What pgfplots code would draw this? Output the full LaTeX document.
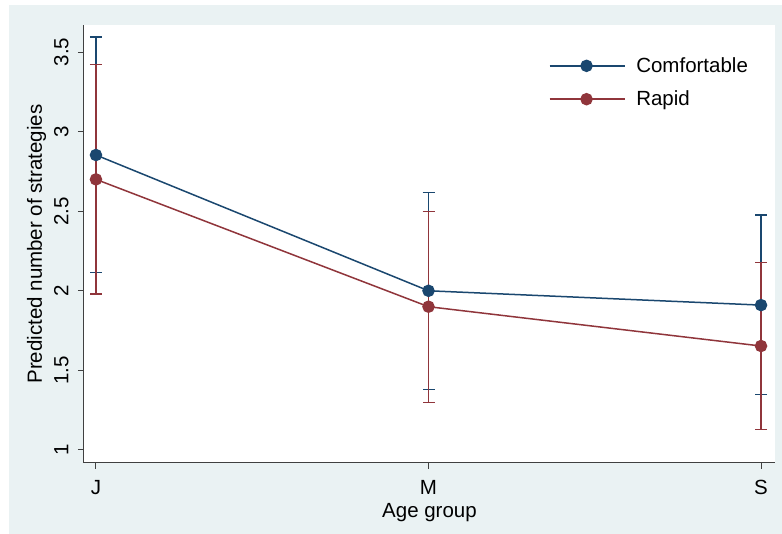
\documentclass[border=0pt]{standalone}
\usepackage{fontspec}
\setmainfont{Liberation Sans}
\usepackage{pgfplots}
\usepackage{pgfplotstable}
\pgfplotsset{compat=1.18}
\definecolor{stnavy}{HTML}{1A476F}
\definecolor{stmaroon}{HTML}{90353B}
\definecolor{stbg}{HTML}{EAF2F3}
\pgfplotstableread{
x y lo hi
0 2.853 2.113 3.594
1 2.000 1.380 2.620
2 1.910 1.346 2.476
}\comf
\pgfplotstableread{
x y lo hi
0 2.700 1.980 3.420
1 1.900 1.300 2.500
2 1.653 1.128 2.179
}\rapid
\begin{document}
\begin{tikzpicture}[x=1pt,y=1pt]
\useasboundingbox (0,0) rectangle (782,534);
\fill[white] (0,0) rectangle (782,534);
\fill[stbg] (9,0) rectangle (782,529);
\begin{axis}[
  at={(84pt,71pt)}, anchor=south west,
  scale only axis, width=691pt, height=438pt,
  xmin=-0.036, xmax=2.042, ymin=0.918, ymax=3.67,
  axis background/.style={fill=white},
  axis x line*=bottom, axis y line*=left,
  axis line style={-, black!75, line width=1pt},
  tick align=outside, major tick length=6pt,
  tick style={black!75, line width=1pt},
  xtick={0,1,2}, xticklabels={J,M,S},
  ytick={1,1.5,2,2.5,3,3.5},
  yticklabel style={xshift=-6pt, rotate=90, anchor=south},
  xticklabel style={yshift=-8pt},
  tick label style={font=\fontsize{20.5}{24}\selectfont},
  /pgf/number format/assume math mode=true,
  label style={font=\fontsize{20.5}{24}\selectfont},
  xlabel={Age group},
  xlabel style={yshift=-1pt},
  ylabel={Predicted number of strategies},
  ylabel style={yshift=1pt},
  legend style={draw=none, fill=none, at={(axis description cs:0.668,0.935)}, anchor=north west,
    font=\fontsize{20.5}{24}\selectfont, row sep=13pt},
  legend cell align=left,
  legend image code/.code={\draw[#1, mark repeat=2, mark phase=2] plot coordinates {(0pt,0pt) (37pt,0pt) (75pt,0pt)}; \path (84pt,0pt);},
]
\addplot[forget plot, only marks, mark=none, stnavy,
  error bars/.cd, y dir=both, y explicit, error mark=|,
  error bar style={line width=1.2pt, stnavy},
  error mark options={mark size=6pt, line width=1.2pt, stnavy}]
  table[x=x, y=y, y error plus expr=\thisrow{hi}-\thisrow{y}, y error minus expr=\thisrow{y}-\thisrow{lo}] {\comf};
\addplot[forget plot, only marks, mark=none, stmaroon,
  error bars/.cd, y dir=both, y explicit, error mark=|,
  error bar style={line width=1.2pt, stmaroon},
  error mark options={mark size=6pt, line width=1.2pt, stmaroon}]
  table[x=x, y=y, y error plus expr=\thisrow{hi}-\thisrow{y}, y error minus expr=\thisrow{y}-\thisrow{lo}] {\rapid};
\addplot[stnavy, line width=1.5pt, mark=*, mark size=5.5pt] table[x=x, y=y] {\comf};
\addlegendentry{Comfortable}
\addplot[stmaroon, line width=1.5pt, mark=*, mark size=5.5pt] table[x=x, y=y] {\rapid};
\addlegendentry{Rapid}
\end{axis}
\end{tikzpicture}
\end{document}
